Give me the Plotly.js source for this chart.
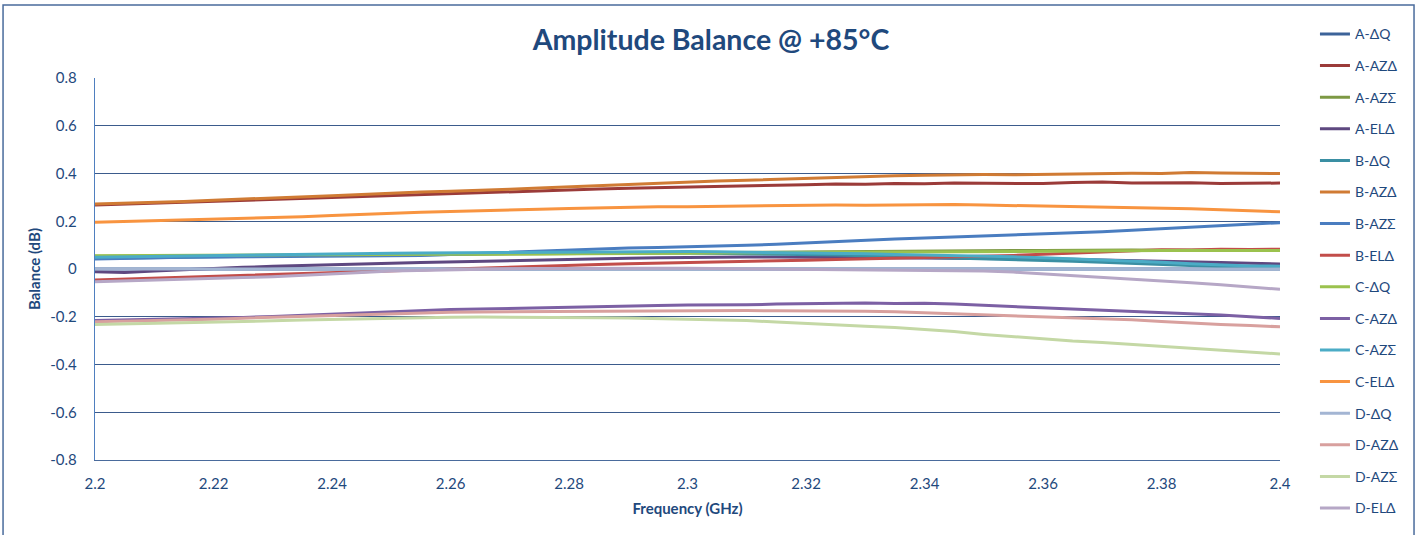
<!DOCTYPE html>
<html><head><meta charset="utf-8">
<script src="https://cdn.plot.ly/plotly-3.0.1.min.js"></script>
<style>html,body{margin:0;padding:0;background:#fff;}#chart{width:1422px;height:535px;}</style>
</head><body><div id="chart"></div>
<script>
const freq = [2.2,2.205,2.21,2.215,2.22,2.225,2.23,2.235,2.24,2.245,2.25,2.255,2.26,2.265,2.27,2.275,2.28,2.285,2.29,2.295,2.3,2.305,2.31,2.315,2.32,2.325,2.33,2.335,2.34,2.345,2.35,2.355,2.36,2.365,2.37,2.375,2.38,2.385,2.39,2.395,2.4];

const seriesNames = ["A-ΔQ","A-AZΔ","A-AZΣ","A-ELΔ","B-ΔQ","B-AZΔ","B-AZΣ","B-ELΔ","C-ΔQ","C-AZΔ","C-AZΣ","C-ELΔ","D-ΔQ","D-AZΔ","D-AZΣ","D-ELΔ"];

const A_dQ = [0,0,0,0,0,0,0,0,0,0,0,0,0,0,0,0,0,0,0,0,0,0,0,0,0,0,0,0,0,0,0,0,0,0,0,0,0,0,0,0,0];
const A_AZd = [0.268,0.272,0.276,0.280,0.283,0.287,0.292,0.296,0.301,0.305,0.310,0.313,0.317,0.320,0.325,0.328,0.332,0.335,0.338,0.340,0.342,0.346,0.348,0.351,0.353,0.356,0.355,0.358,0.357,0.360,0.359,0.361,0.358,0.362,0.364,0.360,0.362,0.361,0.358,0.360,0.360];
const A_AZs = [0.053,0.054,0.055,0.055,0.056,0.056,0.057,0.057,0.058,0.058,0.059,0.060,0.060,0.061,0.062,0.062,0.063,0.064,0.064,0.065,0.066,0.067,0.068,0.069,0.070,0.071,0.072,0.073,0.074,0.076,0.077,0.078,0.077,0.079,0.078,0.080,0.079,0.081,0.080,0.080,0.080];
const A_ELd = [-0.012,-0.015,-0.008,-0.002,0.003,0.007,0.011,0.015,0.018,0.021,0.024,0.027,0.030,0.033,0.036,0.038,0.041,0.043,0.045,0.047,0.049,0.049,0.050,0.050,0.049,0.048,0.047,0.047,0.046,0.046,0.046,0.044,0.043,0.041,0.038,0.036,0.033,0.030,0.027,0.024,0.021];
const B_dQ = [0.044,0.046,0.048,0.050,0.052,0.054,0.056,0.058,0.059,0.061,0.062,0.063,0.064,0.065,0.066,0.066,0.067,0.067,0.068,0.068,0.067,0.066,0.065,0.063,0.061,0.059,0.056,0.053,0.050,0.047,0.044,0.040,0.036,0.032,0.028,0.023,0.018,0.013,0.009,0.005,0.003];
const B_AZd = [0.272,0.275,0.279,0.283,0.288,0.292,0.297,0.303,0.307,0.312,0.318,0.322,0.326,0.329,0.334,0.339,0.344,0.350,0.355,0.360,0.366,0.369,0.372,0.376,0.379,0.383,0.389,0.391,0.393,0.395,0.396,0.395,0.397,0.398,0.399,0.401,0.400,0.404,0.402,0.401,0.400];
const B_AZs = [0.042,0.045,0.047,0.049,0.050,0.051,0.052,0.053,0.053,0.054,0.054,0.057,0.061,0.066,0.071,0.076,0.080,0.084,0.088,0.090,0.092,0.095,0.099,0.104,0.110,0.116,0.121,0.126,0.130,0.134,0.138,0.142,0.146,0.151,0.156,0.162,0.168,0.176,0.182,0.189,0.194];
const B_ELd = [-0.046,-0.042,-0.038,-0.034,-0.030,-0.026,-0.022,-0.018,-0.014,-0.011,-0.008,-0.004,0.000,0.004,0.008,0.012,0.016,0.019,0.022,0.024,0.026,0.028,0.031,0.034,0.037,0.040,0.043,0.046,0.048,0.050,0.052,0.057,0.062,0.067,0.072,0.078,0.081,0.080,0.083,0.082,0.083];
const C_dQ = [0.056,0.057,0.057,0.058,0.058,0.059,0.059,0.060,0.060,0.061,0.061,0.061,0.062,0.062,0.063,0.063,0.064,0.064,0.065,0.065,0.066,0.066,0.067,0.068,0.069,0.070,0.070,0.071,0.072,0.073,0.074,0.074,0.075,0.075,0.076,0.076,0.077,0.077,0.077,0.078,0.078];
const C_AZd = [-0.216,-0.214,-0.212,-0.209,-0.206,-0.203,-0.199,-0.194,-0.189,-0.184,-0.178,-0.173,-0.170,-0.168,-0.165,-0.162,-0.160,-0.157,-0.155,-0.153,-0.151,-0.152,-0.150,-0.147,-0.145,-0.143,-0.142,-0.144,-0.143,-0.147,-0.152,-0.155,-0.160,-0.166,-0.171,-0.176,-0.182,-0.188,-0.193,-0.200,-0.207];
const C_AZs = [0.049,0.051,0.053,0.055,0.057,0.059,0.061,0.062,0.064,0.065,0.066,0.067,0.068,0.069,0.070,0.071,0.072,0.072,0.073,0.073,0.073,0.072,0.071,0.070,0.068,0.066,0.064,0.061,0.059,0.056,0.054,0.051,0.047,0.043,0.039,0.034,0.028,0.022,0.017,0.013,0.012];
const C_ELd = [0.196,0.199,0.203,0.205,0.208,0.211,0.215,0.219,0.224,0.229,0.236,0.238,0.241,0.243,0.246,0.250,0.253,0.256,0.260,0.261,0.261,0.263,0.264,0.266,0.266,0.268,0.267,0.269,0.268,0.270,0.268,0.266,0.264,0.262,0.260,0.257,0.256,0.252,0.248,0.244,0.240];
const D_dQ = [0,0,0,0,0,0,0,0,0,0,0,0,0,0,0,0,0,0,0,0,0,0,0,0,0,0,0,0,0,0,0,0,0,0,0,0,0,0,0,0,0];
const D_AZd = [-0.221,-0.219,-0.216,-0.213,-0.210,-0.206,-0.202,-0.198,-0.194,-0.190,-0.186,-0.183,-0.181,-0.180,-0.179,-0.178,-0.177,-0.176,-0.176,-0.175,-0.175,-0.175,-0.174,-0.175,-0.175,-0.176,-0.177,-0.179,-0.183,-0.188,-0.193,-0.197,-0.201,-0.205,-0.209,-0.213,-0.220,-0.227,-0.232,-0.237,-0.242];
const D_AZs = [-0.232,-0.230,-0.228,-0.226,-0.223,-0.220,-0.217,-0.214,-0.211,-0.208,-0.206,-0.204,-0.202,-0.201,-0.201,-0.202,-0.203,-0.204,-0.205,-0.207,-0.209,-0.212,-0.216,-0.222,-0.229,-0.235,-0.240,-0.245,-0.252,-0.262,-0.274,-0.284,-0.294,-0.302,-0.308,-0.316,-0.326,-0.334,-0.340,-0.348,-0.356];
const D_ELd = [-0.053,-0.050,-0.047,-0.044,-0.040,-0.036,-0.032,-0.027,-0.022,-0.015,-0.008,-0.005,-0.002,0.000,0.001,0.002,0.003,0.003,0.003,0.003,0.003,0.002,0.001,0.000,-0.001,-0.002,-0.003,-0.004,-0.005,-0.006,-0.008,-0.013,-0.020,-0.028,-0.036,-0.042,-0.050,-0.058,-0.066,-0.075,-0.085];

const yTickVals = [-0.8,-0.6,-0.4,-0.2,0,0.2,0.4,0.6,0.8];
const yTickText = ["-0.8","-0.6","-0.4","-0.2","0","0.2","0.4","0.6","0.8"];
const xTickVals = [2.2,2.22,2.24,2.26,2.28,2.3,2.32,2.34,2.36,2.38,2.4];
const xTickText = ["2.2","2.22","2.24","2.26","2.28","2.3","2.32","2.34","2.36","2.38","2.4"];

const seriesData = [A_dQ,A_AZd,A_AZs,A_ELd,B_dQ,B_AZd,B_AZs,B_ELd,C_dQ,C_AZd,C_AZs,C_ELd,D_dQ,D_AZd,D_AZs,D_ELd];
const colors = ["#3c6399","#9b3b39","#7d9944","#5e4880","#3a8fa3","#d07b34","#4a7dc0","#c24d4a","#9bc24e","#7c60a4","#4bacc6","#f89440","#a3b5d3","#d8a09e","#c4d8a5","#b6a7c6"];

const txtColor = "#1f497d";
const traces = seriesNames.map((n,i)=>({
  x: freq, y: seriesData[i], name: n, type: "scatter", mode: "lines",
  legendgroup: "g"+i,
  line: {color: colors[i], width: 3, shape: "linear"}
}));

const layout = {
  width: 1422, height: 535,
  margin: {l: 95, r: 142, t: 78, b: 75},
  paper_bgcolor: "#ffffff", plot_bgcolor: "#ffffff",
  font: {family: "Lato, 'Open Sans', sans-serif", color: txtColor, size: 14},
  title: {text: "<b>Amplitude Balance @ +85°C</b>", x: 0.5, xanchor: "center", y: 0.925, yanchor: "middle",
          font: {size: 28.5, color: txtColor, family: "Lato, sans-serif"}},
  xaxis: {range: [2.2, 2.4], tickvals: xTickVals, ticktext: xTickText, showgrid: false, zeroline: false,
          showline: true, linecolor: "#4a6b9c", linewidth: 1.3, ticks: "", ticklabelstandoff: 10,
          tickfont: {size: 15, color: txtColor},
          title: {text: "<b>Frequency (GHz)</b>", font: {size: 15, color: txtColor}, standoff: 12}},
  yaxis: {range: [-0.8, 0.8], tickvals: yTickVals, ticktext: yTickText, showgrid: true, gridcolor: "#3b5b8c", gridwidth: 1.3,
          zeroline: true, zerolinecolor: "#3b5b8c", zerolinewidth: 1.3,
          showline: true, linecolor: "#4f7fbf", linewidth: 1.3, ticks: "", ticklabelstandoff: 14,
          tickfont: {size: 15, color: txtColor},
          title: {text: "<b>Balance (dB)</b>", font: {size: 15, color: txtColor}, standoff: 6}},
  showlegend: true,
  legend: {x: 1.0295, xanchor: "left", y: 1.156, yanchor: "top", traceorder: "grouped", tracegroupgap: 10.4,
           maxheight: 530,
           font: {size: 14, color: txtColor}, bgcolor: "rgba(0,0,0,0)"},
  shapes: [{type: "rect", xref: "paper", yref: "paper", x0: -0.0776, x1: 1.1131, y0: -0.25, y1: 1.1911,
            line: {color: "#4a6b9c", width: 1.5}, fillcolor: "rgba(0,0,0,0)", layer: "below"}]
};

Plotly.newPlot("chart", traces, layout, {displayModeBar: false, staticPlot: true});
</script></body></html>
